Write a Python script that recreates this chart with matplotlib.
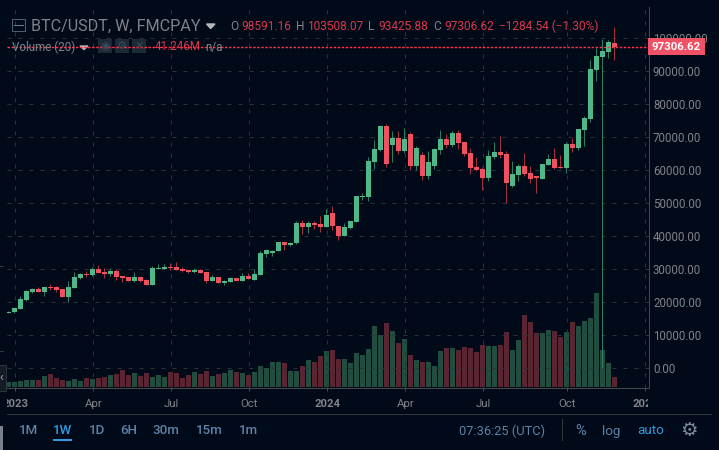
import numpy as np
import matplotlib
matplotlib.use("Agg")
import matplotlib.pyplot as plt
from matplotlib.patches import Rectangle, Polygon
from matplotlib.transforms import Bbox

# weekly candles, prices in USDT
opens = [16600, 16900, 17900, 20600, 23000, 23900, 23000, 24500, 24500, 23900, 21500, 24200, 27200, 28400, 28100,
         29900, 29000, 28400, 29300, 27800, 27500, 26300, 27500, 26600, 25100, 30000, 30000, 30600, 30600, 30000,
         29600, 29000, 29600, 29000, 26300, 27500, 25700, 26000, 27200, 26300, 27800, 26600, 28100, 34500, 34800,
         35400, 38200, 37200, 37800, 43900, 42700, 43900, 43600, 42700, 47000, 43000, 40000, 42400, 44200, 51800,
         51800, 62400, 66000, 73400, 67600, 69700, 65800, 70900, 61200, 64600, 58200, 61200, 66000, 69400, 67600,
         71200, 68500, 65200, 60900, 60300, 57600, 64000, 65500, 64900, 55200, 58500, 61200, 59100, 58200, 57300,
         61500, 63400, 60900, 60600, 67900, 66700, 72200, 75500, 90400, 94300, 95900, 98591.16]
closes = [17000, 18100, 20900, 23200, 23900, 23000, 24500, 24200, 23600, 21500, 24500, 27500, 28400, 28100, 29900,
          28700, 28400, 29300, 27500, 27200, 26300, 27500, 26300, 25100, 30300, 30300, 30600, 30200, 29700, 29300,
          29000, 29600, 28700, 26300, 27500, 25700, 26300, 27200, 26300, 27800, 26900, 28400, 34800, 35700, 35400,
          38200, 37200, 38000, 43900, 42700, 43900, 43300, 42700, 46400, 43000, 40000, 42700, 44500, 52100, 52100,
          62700, 66400, 73400, 61800, 69700, 65800, 69400, 61200, 66700, 58200, 62400, 66400, 69400, 67600, 71200,
          68200, 64900, 60600, 60000, 57600, 64300, 65500, 64600, 56000, 58800, 61200, 58800, 57300, 57600, 61800,
          63400, 60600, 60600, 67900, 66700, 72500, 75800, 90700, 94600, 96100, 98900, 97306.62]
highs = [17100, 18200, 21800, 23600, 24200, 24400, 24600, 25400, 24800, 23900, 26300, 29000, 28800, 29300, 30500,
         31200, 30200, 30200, 30000, 27900, 27600, 29000, 27600, 26900, 30800, 31500, 31500, 31800, 32000, 30700,
         29700, 30200, 30000, 29100, 28200, 27600, 26600, 27500, 27300, 28700, 28900, 30000, 35500, 35800, 35700,
         38300, 38300, 38300, 44500, 44800, 44500, 44500, 46000, 48200, 49000, 43100, 43900, 44600, 52200, 53000,
         63900, 69100, 73700, 74000, 71900, 71900, 72800, 71500, 67300, 65500, 65800, 66700, 72200, 71000, 71800,
         72200, 68600, 66700, 63900, 60900, 66100, 68500, 70300, 65800, 62700, 61800, 65200, 61200, 58300, 61900,
         64900, 66700, 64600, 68500, 69700, 72600, 76400, 93400, 97000, 99800, 99500, 103508.07]
lows = [16500, 16700, 17800, 20400, 22700, 22900, 21800, 23600, 22900, 21400, 20000, 24100, 27000, 27500, 27800,
        28600, 27200, 27900, 26600, 26000, 26200, 26000, 25900, 25000, 25000, 29900, 29900, 29700, 29600, 29000,
        28900, 28900, 28600, 25700, 26200, 25600, 25100, 25900, 26200, 26200, 26800, 26500, 28000, 33600, 33900,
        35300, 35700, 36900, 37700, 40600, 40900, 42000, 41200, 42600, 41800, 38800, 39900, 42000, 44100, 50900,
        50600, 60300, 65800, 60900, 62400, 64900, 65200, 60000, 60000, 57000, 57300, 60300, 64900, 66700, 67000,
        66400, 64300, 58800, 59700, 53900, 56700, 63400, 63700, 50000, 54800, 56700, 58200, 56000, 53000, 57200,
        61400, 60300, 60500, 59100, 65500, 66100, 67300, 74600, 87000, 0, 94000, 93425.88]
# volume in millions
volumes = [21, 21, 25, 29, 29, 29, 45, 53, 37, 29, 25, 33, 25, 37, 33, 37, 41, 49, 53, 69, 49, 57, 45, 57, 41, 49,
           41, 61, 57, 37, 49, 61, 53, 65, 45, 53, 57, 69, 61, 57, 49, 61, 85, 77, 101, 101, 97, 65, 65, 85, 109,
           101, 125, 145, 149, 113, 113, 97, 137, 129, 153, 245, 209, 257, 225, 177, 193, 129, 109, 101, 101, 85,
           145, 157, 157, 149, 161, 157, 141, 169, 165, 165, 169, 221, 149, 189, 289, 261, 217, 217, 229, 225, 201,
           221, 261, 245, 265, 277, 377, 149, 97, 41.246]

x_ticks = [1, 14, 27, 40, 53, 66, 79, 93, 106]
x_labels = ["2023", "Apr", "Jul", "Oct", "2024", "Apr", "Jul", "Oct", "2025"]
y_ticks = [0, 10000, 20000, 30000, 40000, 50000, 60000, 70000, 80000, 90000, 100000]
last_price = 97306.62

BG = "#010a18"
GRID = "#2c3235"
AXIS = "#44484c"
TEXT = "#7f8388"
RED = "#f0505f"
DIM_RED = "#d8394c"
BLUE_GREY = "#5c82a8"
W, H = 719, 450
LW = 0.72  # one pixel at dpi 100, dash patterns below are then in pixels too

plt.rcParams["font.family"] = ["Roboto", "DejaVu Sans"]
fig = plt.figure(figsize=(W / 100, H / 100), dpi=100, facecolor=BG)


def px(x, y):
    return x / W, 1 - y / H


left, right, top, bottom = 7, 648.5, 7, 388.3
ax = fig.add_axes([left / W, 1 - bottom / H, (right - left) / W, (bottom - top) / H], facecolor=BG)
vol_ax = ax.twinx()
ax.set_zorder(vol_ax.get_zorder() + 1)
ax.patch.set_visible(False)
vol_ax.patch.set_facecolor(BG)

x = np.arange(len(opens))
o, c, hi, lo = map(np.array, (opens, closes, highs, lows))
up = c >= o

ax.set_xlim(-0.217, 106.7)
ax.set_ylim(-6250, 109500)
vol_ax.set_ylim(-3.5, 1522)
vol_ax.axis("off")

# volume first so the candles sit on top
vol_colors = np.where(up, "#204d40", "#5b2433")
vol_ax.bar(x, volumes, width=0.83, color=vol_colors, linewidth=0)

ax.vlines(x[up], lo[up], hi[up], color="#2f7d60", linewidth=LW, zorder=3)
ax.vlines(x[~up], lo[~up], hi[~up], color="#a5313f", linewidth=LW, zorder=3)
# body of at least a hair so dojis stay visible
ax.bar(x[up], np.maximum(c[up] - o[up], 300), bottom=o[up], width=0.83, color="#4fb88a", linewidth=0, zorder=4)
ax.bar(x[~up], np.maximum(o[~up] - c[~up], 300), bottom=c[~up], width=0.83, color=RED, linewidth=0, zorder=4)

# grid
ax.set_axisbelow(True)
ax.set_yticks(y_ticks)
ax.set_yticklabels([f"{v:.2f}" for v in y_ticks])
ax.set_xticks(np.array(x_ticks) + 0.17)
ax.set_xticklabels(x_labels)
ax.grid(True, color=GRID, linewidth=LW, linestyle=(0, (4, 7)))
ax.yaxis.tick_right()
ax.tick_params(axis="y", length=0, pad=3.2, labelsize=8.3, labelcolor=TEXT)
ax.tick_params(axis="x", length=2, width=LW, color=AXIS, pad=6, labelsize=8.2, labelcolor=TEXT)
for label in ax.get_xticklabels():
    label.set_clip_on(True)
    label.set_clip_box(Bbox([[left, 0], [right - 1, H]]))
    if label.get_text() in ("2023", "2024", "2025"):
        label.set_fontweight("bold")
for name, spine in ax.spines.items():
    spine.set_visible(name in ("right", "bottom"))
    spine.set_color(AXIS)
    spine.set_linewidth(LW)

# header, legend text goes under the last price line
fig.text(*px(31, 26), "BTC/USDT, W, FMCPAY", color=TEXT, fontsize=11.6, va="center", ha="left")
fig.add_artist(Polygon([px(206.5, 24), px(215, 24), px(210.7, 28.5)], color="#b5b8bb"))
fig.add_artist(Rectangle(px(12, 31), 13 / W, 12 / H, fill=False, edgecolor="#4d5f70", linewidth=LW))
fig.add_artist(plt.Line2D([14.5 / W, 22.5 / W], [1 - 25 / H] * 2, color="#6d7d8c", linewidth=LW))
for xpos, s, col in [(230, "O", TEXT), (241, "98591.16", DIM_RED), (296, "H", TEXT), (307, "103508.07", DIM_RED),
                     (368, "L", TEXT), (378, "93425.88", DIM_RED), (433, "C", TEXT), (444, "97306.62", DIM_RED),
                     (499, "\u22121284.54 (\u22121.30%)", DIM_RED)]:
    fig.text(*px(xpos, 26), s, color=col, fontsize=8.6, va="center", ha="left")

fig.text(*px(12, 47), "Volume (20)", color=TEXT, fontsize=8.4, va="center", ha="left")
fig.add_artist(Polygon([px(80, 46), px(88, 46), px(84, 49.5)], color="#b5b8bb"))
for xpos, s in [(98, "\u25c9"), (115, "\u2699"), (132, "\u2715")]:
    fig.add_artist(Rectangle(px(xpos, 53), 14 / W, 14 / H, color="#1c2a38", linewidth=0))
    fig.text(*px(xpos + 7, 46), s, color="#3d4b59", fontsize=8, va="center", ha="center",
             family=["DejaVu Sans"])
fig.text(*px(155, 47), "41.246M", color=DIM_RED, fontsize=8.4, va="center", ha="left")
fig.text(*px(205, 47), "n/a", color=TEXT, fontsize=8.4, va="center", ha="left")

# last price line and its label
ax.axhline(last_price, color="#ff3048", linewidth=1.0, linestyle=(0, (1.8, 1.1)), zorder=6)
fig.add_artist(Rectangle(px(648, 55), 57 / W, 17 / H, color="#ef5266", linewidth=0, zorder=5))
fig.text(*px(676.5, 46.5), f"{last_price:.2f}", color="white", fontsize=8.2, fontweight="bold",
         va="center", ha="center", zorder=6)

# bottom toolbar
fig.add_artist(plt.Line2D([7 / W, 711 / W], [1 - 413.5 / H] * 2, color="#31373d", linewidth=LW))
for xpos, s, col in [(29, "1M", BLUE_GREY), (63, "1W", "#2f9be0"), (97, "1D", BLUE_GREY), (129, "6H", BLUE_GREY),
                     (166, "30m", BLUE_GREY), (209, "15m", BLUE_GREY), (248, "1m", BLUE_GREY)]:
    fig.text(*px(xpos, 431), s, color=col, fontsize=9.6, va="center", ha="center", fontweight="medium")
fig.add_artist(Rectangle(px(53, 441), 19 / W, 2 / H, color="#2f9be0", linewidth=0))
fig.text(*px(502.5, 431), "07:36:25 (UTC)", color=BLUE_GREY, fontsize=9.3, va="center", ha="center")
fig.add_artist(plt.Line2D([561.5 / W] * 2, [1 - 419 / H, 1 - 440 / H], color="#31373d", linewidth=LW))
fig.text(*px(581, 431), "%", color=BLUE_GREY, fontsize=10.5, va="center", ha="center")
fig.text(*px(611.5, 431), "log", color=BLUE_GREY, fontsize=9.6, va="center", ha="center")
fig.text(*px(651, 431), "auto", color="#2f9be0", fontsize=9.6, va="center", ha="center")
fig.text(*px(689, 430), "\u2699", color="#7c8a98", fontsize=14, va="center", ha="center", family=["DejaVu Sans"])

# scroll handle and the sliver at the left edge
fig.add_artist(Rectangle(px(-3, 391), 9 / W, 26 / H, facecolor="#151c26", edgecolor="#2c333c", linewidth=LW))
fig.text(*px(1.5, 378), "\u2039", color="#9aa0a6", fontsize=9, va="center", ha="center")
fig.add_artist(Rectangle(px(0, 450), 3 / W, 24 / H, color="#79828c", linewidth=0))
fig.add_artist(plt.Line2D([0, 3 / W], [1 - 350.5 / H] * 2, color="#33393f", linewidth=LW))
fig.add_artist(plt.Line2D([0, 3 / W], [1 - 265.5 / H] * 2, color="#33393f", linewidth=LW))

fig.savefig("out.png", dpi=100, facecolor=BG)
